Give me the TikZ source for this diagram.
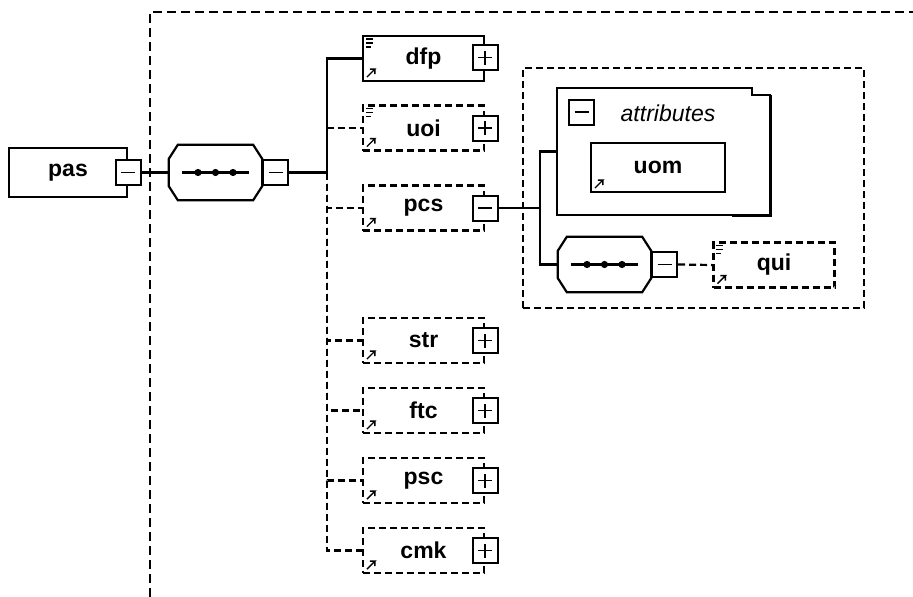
\documentclass[tikz,border=0pt]{standalone}
\usepackage{fontspec}
\setmainfont{Liberation Sans}
\usetikzlibrary{calc}

\tikzset{
  elem/.style={draw, fill=white, line width=2.2pt, minimum width=121pt, minimum height=45pt, inner sep=0pt, font=\fontsize{23}{25}\selectfont\bfseries},
  optelem/.style={elem, dash pattern=on 7pt off 4pt},
  btn/.style={draw, fill=white, line width=2pt, minimum size=25pt, inner sep=0pt},
  minusbtn/.style={btn, path picture={
    \draw[line width=1.6pt]([xshift=-7pt]path picture bounding box.center) -- ([xshift=7pt]path picture bounding box.center);}},
  plusbtn/.style={btn, path picture={
    \draw[line width=1.6pt]([xshift=-7pt]path picture bounding box.center) -- ([xshift=7pt]path picture bounding box.center);
    \draw[line width=1.6pt]([yshift=-7pt]path picture bounding box.center) -- ([yshift=7pt]path picture bounding box.center);}},
  seqshape/.style={minimum width=93pt, minimum height=55pt, inner sep=0pt},
  wire/.style={line width=2.2pt},
  optwire/.style={wire, dash pattern=on 7pt off 4pt},
  frame/.style={line width=2.4pt, dash pattern=on 9pt off 5pt},
  icon/.style={line width=1.4pt}
}

\begin{document}
\begin{tikzpicture}[x=1pt,y=-1pt]
\useasboundingbox (0,0) rectangle (913,597);

\draw[frame](150,597) |- (913,12);

\node[elem, minimum width=118pt, minimum height=49pt] (pas) at (68,172.5) {pas};
\node[minusbtn] (pasb) at (pas.east) {};

\foreach \s/\x/\y in {seq/215.5/172.5, seqq/604.5/264.5}{
  \node[seqshape] (\s) at (\x,\y) {};
  \draw[wire, fill=white]([xshift=9pt]\s.north west) -- ([xshift=-9pt]\s.north east) -- ([yshift=-14pt]\s.north east)
     -- ([yshift=14pt]\s.south east) -- ([xshift=-9pt]\s.south east) -- ([xshift=9pt]\s.south west)
     -- ([yshift=14pt]\s.south west) -- ([yshift=-14pt]\s.north west) -- cycle;
  \draw[wire]([xshift=13pt]\s.west) -- ([xshift=-13pt]\s.east);
  \foreach \d in {-17.5,0,17.5}{
    \fill([xshift=\d pt]\s.center) circle (3.6pt);
  }
  \node[minusbtn, anchor=west] (\s b) at (\s.east) {};
}
\draw[wire](pasb.east) -- (seq.west);

\node[elem] (dfp) at (423.5,58.5) {dfp};
\node[optelem] (uoi) at (423.5,128) {uoi};
\node[optelem] (pcs) at (423.5,208) {pcs};
\foreach \n/\y in {str/340.5, ftc/410.5, psc/480.5, cmk/550.5}{
  \node[optelem] (\n) at (423.5,\y) {\n};
}

\coordinate (trunk) at (327,172.5);
\draw[wire](seqb.east) -- (trunk);
\draw[wire](trunk) |- (dfp.west);
\foreach \n in {uoi,pcs,str,ftc,psc,cmk}{
  \draw[optwire](trunk) |- (\n.west);
}

\node[plusbtn] (dfpb) at ([yshift=1pt]dfp.east) {};
\node[plusbtn] (uoib) at (uoi.east) {};
\node[minusbtn] (pcsb) at (pcs.east) {};
\foreach \n in {str,ftc,psc,cmk}{
  \node[plusbtn] (\n b) at (\n.east) {};
}

% pcs content
\node[draw, line width=2pt, dash pattern=on 7pt off 4pt, minimum width=341pt, minimum height=240pt] (pcsgrp) at (693.5,188) {};
\node[inner sep=0pt, minimum width=213pt, minimum height=127pt] (attr) at (663.5,151.5) {};
\draw[line width=2.4pt, fill=white](attr.south west) -- (attr.north west) -- ([xshift=-18pt]attr.north east)
   -- ([xshift=-18pt,yshift=-7pt]attr.north east) -- ([yshift=-7pt]attr.north east) -- (attr.south east) -- cycle;
\draw[line width=3.4pt]([yshift=-7pt]attr.north east) -- (attr.south east) -- ([xshift=-38pt]attr.south east);
\node[minusbtn] (attrb) at (581.5,112) {};
\node[font=\fontsize{23}{25}\selectfont\itshape] (attrt) at (668,113) {attributes};
\node[elem, minimum width=134pt, minimum height=49pt] (uom) at (658,167.5) {uom};
\node[optelem] (qui) at (774,265) {qui};

\coordinate (pcsj) at (540,208);
\draw[wire](pcsb.east) -- (pcsj);
\draw[wire](pcsj) |- (attr.west);
\draw[wire](pcsj) |- (seqq.west);
\draw[optwire](seqqb.east) -- (qui.west);

\foreach \n in {dfp,uoi,qui}{
  \foreach \dy/\len in {4/7,8/7,12/5}{
    \draw[icon]([shift={(4pt,-\dy pt)}]\n.north west) -- ++(\len pt,0);
  }
}
\foreach \n in {dfp,uoi,pcs,str,ftc,psc,cmk,uom,qui}{
  \draw[icon]([shift={(5pt,5pt)}]\n.south west) -- ++(8pt,8pt) -- ++(-5pt,0) ++(5pt,0) -- ++(0,-5pt);
}

\end{tikzpicture}
\end{document}
